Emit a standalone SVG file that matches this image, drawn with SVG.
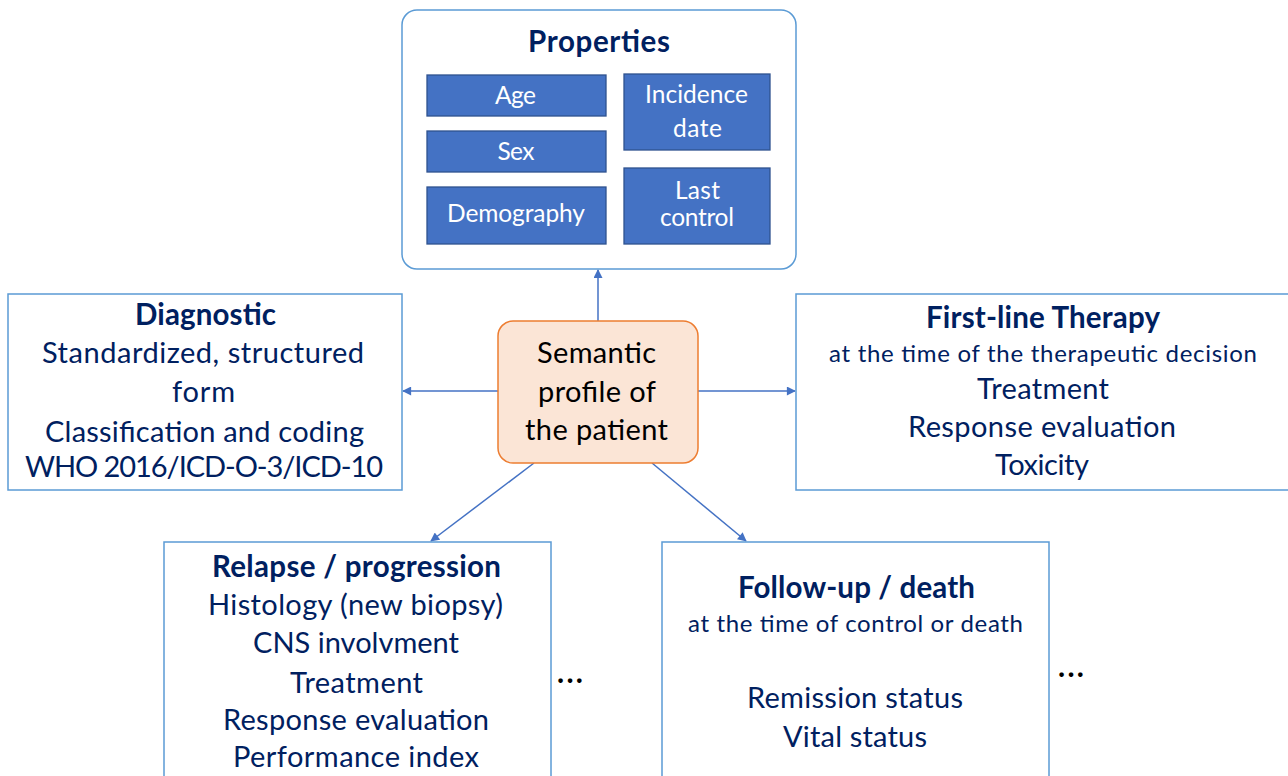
<svg xmlns="http://www.w3.org/2000/svg" width="1288" height="776" viewBox="0 0 1288 776">
<defs>
<style>
.box{fill:#ffffff;stroke:#5B9BD5;stroke-width:1.5}
.inner{fill:#4472C4;stroke:#2F528F;stroke-width:1.3}
.core{fill:#FBE5D6;stroke:#ED7D31;stroke-width:1.5}
text{font-family:Lato,"Open Sans","Liberation Sans",sans-serif;text-anchor:middle}
.t{fill:#002060;font-size:29px}
.b{fill:#002060;font-size:29.5px;font-weight:bold}
.s{fill:#002060;font-size:24px}
.w{fill:#ffffff;font-size:24.5px}
.k{fill:#000000;font-size:29px}
.e{fill:#000000;font-size:30px;font-weight:bold}
.conn{stroke:#4472C4;stroke-width:1.5;fill:none;marker-end:url(#arr)}
</style>
<marker id="arr" viewBox="0 0 10 10" refX="9" refY="5" markerWidth="10" markerHeight="9" markerUnits="userSpaceOnUse" orient="auto">
<path d="M0,0 L10,5 L0,10 z" fill="#4472C4"/>
</marker>
</defs>
<rect width="1288" height="776" fill="#ffffff"/>
<g id="connectors">
<line class="conn" x1="598" y1="321" x2="598" y2="270"/>
<line class="conn" x1="498" y1="391" x2="403" y2="391"/>
<line class="conn" x1="698" y1="391" x2="795" y2="391"/>
<line class="conn" x1="534" y1="463" x2="431" y2="541"/>
<line class="conn" x1="652" y1="463" x2="746" y2="541"/>
</g>
<g id="properties">
<rect class="box" x="402" y="10" width="394" height="259" rx="15"/>
<text class="b" x="599" y="52" textLength="142">Properties</text>
<rect class="inner" x="427" y="75" width="179" height="41"/>
<text class="w" x="515.5" y="104" textLength="41">Age</text>
<rect class="inner" x="427" y="131" width="179" height="41"/>
<text class="w" x="516" y="160" textLength="37">Sex</text>
<rect class="inner" x="427" y="187" width="179" height="57"/>
<text class="w" x="516" y="222" textLength="138">Demography</text>
<rect class="inner" x="624" y="74" width="146" height="76"/>
<text class="w" x="696.5" y="103" textLength="103">Incidence</text>
<text class="w" x="697.5" y="137" textLength="49">date</text>
<rect class="inner" x="624" y="168" width="146" height="76"/>
<text class="w" x="697.5" y="199" textLength="45">Last</text>
<text class="w" x="697" y="226" textLength="74">control</text>
</g>
<g id="diagnostic">
<rect class="box" x="8" y="294" width="394" height="196"/>
<text class="b" x="205.5" y="325" textLength="141">Diagnostic</text>
<text class="t" x="203" y="363" textLength="322">Standardized, structured</text>
<text class="t" x="203.5" y="402" textLength="63">form</text>
<text class="t" x="204.5" y="442" textLength="319">Classification and coding</text>
<text class="t" x="204" y="477" textLength="358">WHO 2016/ICD-O-3/ICD-10</text>
</g>
<g id="semantic-profile">
<rect class="core" x="498" y="321" width="200" height="142" rx="15"/>
<text class="k" x="596.5" y="363" textLength="119">Semantic</text>
<text class="k" x="597" y="402" textLength="118">profile of</text>
<text class="k" x="596.5" y="440" textLength="143">the patient</text>
</g>
<g id="first-line-therapy">
<rect class="box" x="796" y="294" width="498" height="196"/>
<text class="b" x="1043" y="328" textLength="234">First-line Therapy</text>
<text class="s" x="1043" y="362" textLength="428">at the time of the therapeutic decision</text>
<text class="t" x="1043" y="399" textLength="132">Treatment</text>
<text class="t" x="1042" y="437" textLength="268">Response evaluation</text>
<text class="t" x="1042" y="475" textLength="94">Toxicity</text>
</g>
<g id="relapse-progression">
<rect class="box" x="164" y="542" width="387" height="250"/>
<text class="b" x="356.5" y="577" textLength="289">Relapse / progression</text>
<text class="t" x="355.5" y="615" textLength="295">Histology (new biopsy)</text>
<text class="t" x="356" y="653" textLength="206">CNS involvment</text>
<text class="t" x="356.5" y="693" textLength="133">Treatment</text>
<text class="t" x="356" y="730" textLength="266">Response evaluation</text>
<text class="t" x="356" y="767" textLength="246">Performance index</text>
</g>
<g id="follow-up-death">
<rect class="box" x="662" y="542" width="387" height="250"/>
<text class="b" x="856.5" y="598" textLength="237">Follow-up / death</text>
<text class="s" x="855.5" y="632" textLength="335">at the time of control or death</text>
<text class="t" x="855" y="708" textLength="216">Remission status</text>
<text class="t" x="855" y="747" textLength="144">Vital status</text>
</g>
<g id="ellipses">
<text class="e" x="570" y="683" textLength="26">...</text>
<text class="e" x="1071" y="677" textLength="26">...</text>
</g>
</svg>
